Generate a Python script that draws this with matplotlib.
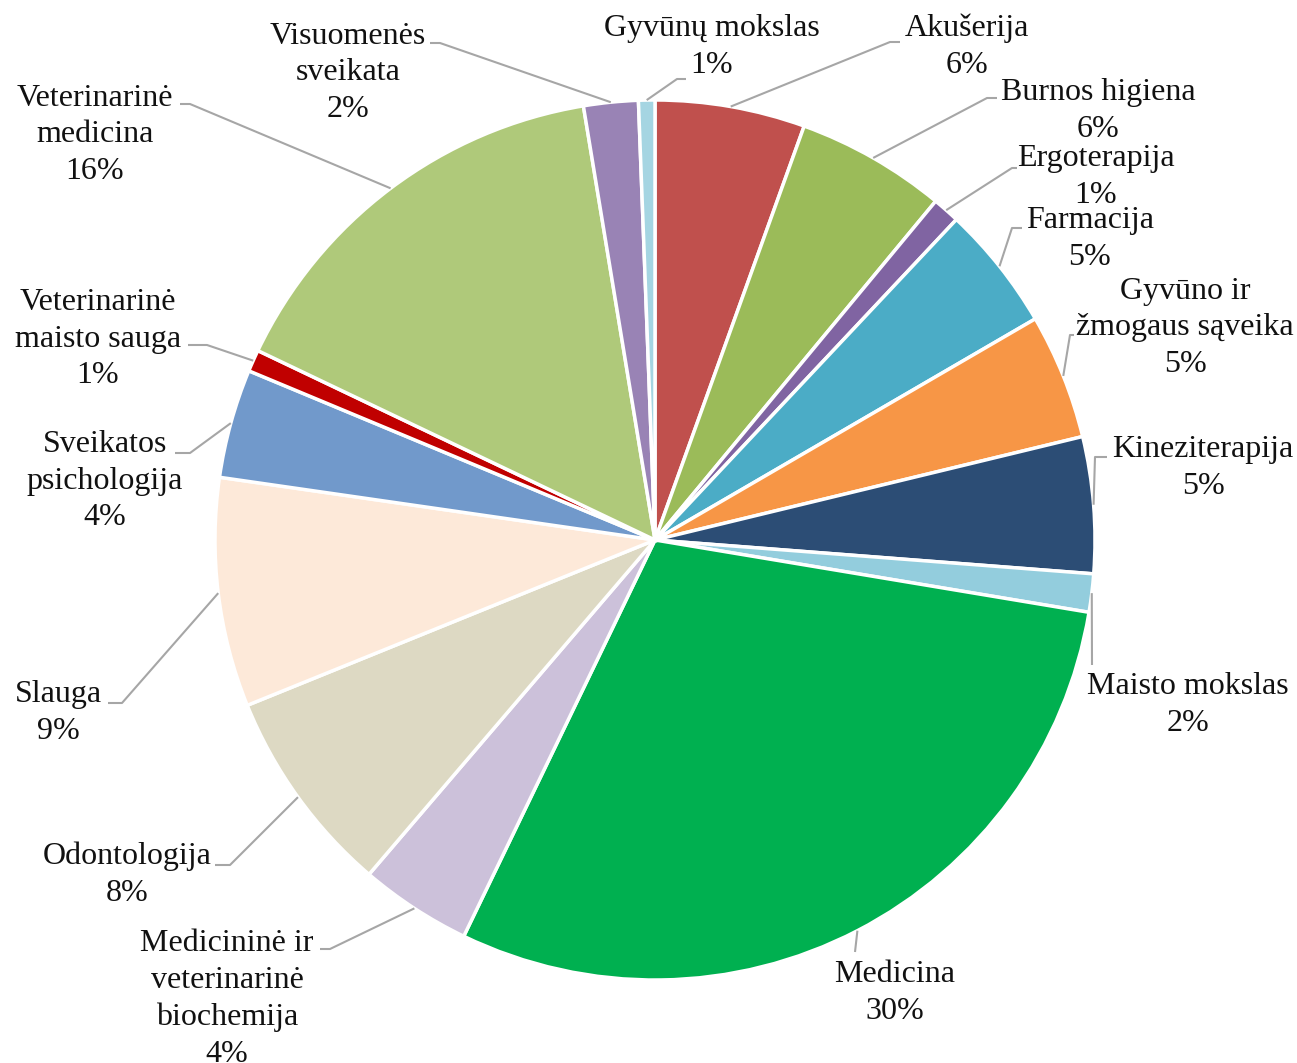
import matplotlib.pyplot as plt
import numpy as np

# slices, clockwise from 12 o'clock
names = ['Akušerija', 'Burnos higiena', 'Ergoterapija', 'Farmacija',
         'Gyvūno ir\nžmogaus sąveika', 'Kineziterapija', 'Maisto mokslas',
         'Medicina', 'Medicininė ir\nveterinarinė\nbiochemija', 'Odontologija',
         'Slauga', 'Sveikatos\npsichologija', 'Veterinarinė\nmaisto sauga',
         'Veterinarinė\nmedicina', 'Visuomenės\nsveikata', 'Gyvūnų mokslas']
shares = [5.5, 5.5, 1.0, 4.6, 4.6, 5.0, 1.4, 29.5, 4.1, 7.6, 8.4, 4.0, 0.8,
          15.3, 2.0, 0.6]
pct_text = ['6%', '6%', '1%', '5%', '5%', '5%', '2%', '30%', '4%', '8%',
            '9%', '4%', '1%', '16%', '2%', '1%']
colors = ['#C0504D', '#9BBB59', '#8064A2', '#4BACC6', '#F79646', '#2C4D75',
          '#93CDDD', '#00B050', '#CCC1DA', '#DDD9C3', '#FDE9D9', '#7199CB',
          '#C00000', '#AFC97A', '#9983B5', '#A5D5E2']

# label layout in pixels (from top-left): text centre, elbow, line end
text_xy = [(967, 47), (1098, 111), (1096, 177), (1090, 239), (1185, 328),
           (1203, 468), (1188, 705), (895, 993), (227, 999), (127, 875),
           (58, 713), (105, 481), (98, 339), (95, 135), (348, 73), (712, 47)]
elbow_xy = [(890, 42), (987, 98), (1012, 168), (1012, 228), (1070, 335),
            (1095, 457), (1092, 665), (855, 952), (330, 949), (230, 865),
            (122, 703), (190, 453), (207, 345), (190, 104), (440, 43), (677, 79)]
end_xy = [(900, 42), (997, 98), (1017, 168), (1022, 228), (1074, 335),
          (1107, 457), (1092, 665), (855, 952), (320, 949), (215, 865),
          (108, 703), (175, 453), (188, 345), (180, 104), (430, 43), (686, 79)]

W, H = 1297, 1063
fig = plt.figure(figsize=(W / 100, H / 100), dpi=100)
ax = fig.add_axes([0, 0, 1, 1])

cx, cy, r = 655, H - 540, 440
wedges, _ = ax.pie(shares, colors=colors, startangle=90, counterclock=False,
                   center=(cx, cy), radius=r,
                   wedgeprops=dict(edgecolor='white', linewidth=2.5))
ax.set_xlim(0, W)
ax.set_ylim(0, H)
ax.axis('off')

for i, w in enumerate(wedges):
    mid = np.deg2rad((w.theta1 + w.theta2) / 2)
    sx, sy = cx + r * np.cos(mid), cy + r * np.sin(mid)
    ex, ey = elbow_xy[i]
    lx, ly = end_xy[i]
    ax.plot([sx, ex, lx], [sy, H - ey, H - ly], color='#A6A6A6', lw=1.5,
            solid_capstyle='butt')
    tx, ty = text_xy[i]
    ax.text(tx, H - ty, names[i] + '\n' + pct_text[i], ha='center',
            va='center', multialignment='center', fontsize=23,
            family='Liberation Serif', color='#111111', linespacing=1.36)

fig.savefig('out.png', dpi=100, facecolor='white')
